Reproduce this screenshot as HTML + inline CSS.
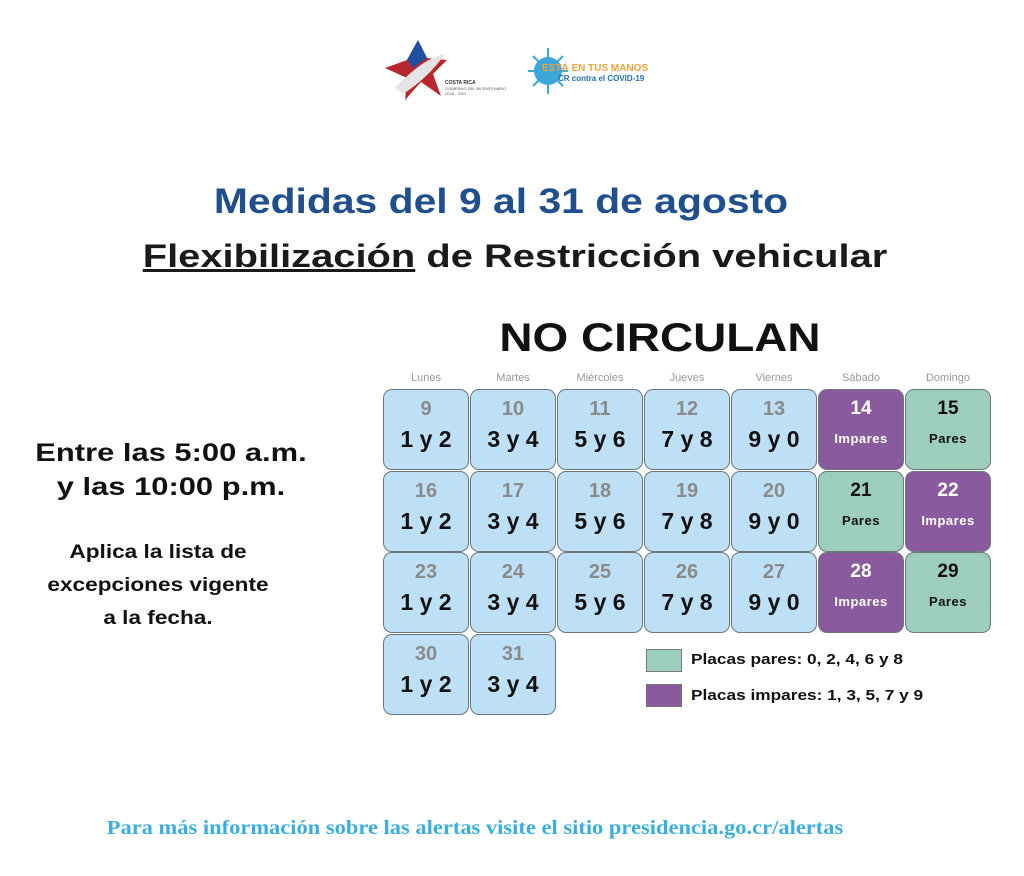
<!DOCTYPE html>
<html><head><meta charset="utf-8"><style>
body{margin:0;width:1024px;height:876px;background:#fff;font-family:"Liberation Sans",sans-serif;position:relative;overflow:hidden}
.a{position:absolute;white-space:nowrap}
.t{position:absolute;white-space:nowrap;width:1000px;text-align:center;transform-origin:50% 50%}
.c{position:absolute;width:84px;height:79px;border:1px solid #6a7780;border-radius:9px;text-align:center;box-sizing:content-box}
.b{background:#bde0f7}.p{background:#8a5a9e;color:#fff}.g{background:#9dcebd;color:#111}
.n{position:absolute;left:0;right:0;top:8px;font-size:20px;font-weight:bold;color:#8a8a8a}
.v{position:absolute;left:0;right:0;top:36px;font-size:23px;font-weight:bold;color:#111}
.wn{position:absolute;left:0;right:0;top:8px;font-size:19px;font-weight:bold}
.wl{position:absolute;left:0;right:0;top:41px;font-size:13px;font-weight:bold;letter-spacing:0.5px}
.d{position:absolute;top:372px;width:86px;text-align:center;font-size:11px;color:#999}
</style></head><body>
<svg class="a" style="left:383px;top:38px" width="130" height="64">
<polygon points="35,2 44,20 64,22 50,36 58,58 38,44 22,62 24,40 2,30 24,22" fill="#b8282e"/>
<polygon points="35,2 44,20 30,30 24,22" fill="#1e4fa0"/>
<path d="M12,50 Q40,20 62,16 Q45,40 20,56Z" fill="#e4e4e4"/>
<text x="62" y="46" font-size="5" font-family="Liberation Sans" font-weight="bold" fill="#333">COSTA RICA</text>
<text x="62" y="52" font-size="4" font-family="Liberation Sans" fill="#555">GOBIERNO DEL BICENTENARIO</text>
<text x="62" y="57" font-size="4" font-family="Liberation Sans" fill="#555">2018 - 2022</text>
</svg>
<svg class="a" style="left:528px;top:46px" width="125" height="50">
<circle cx="20" cy="25" r="14" fill="#3aa7d8"/>
<g stroke="#3aa7d8" stroke-width="2"><line x1="20" y1="2" x2="20" y2="48"/><line x1="0" y1="25" x2="40" y2="25"/><line x1="5" y1="10" x2="35" y2="40"/><line x1="35" y1="10" x2="5" y2="40"/></g>
<text x="14" y="25" font-size="10" font-family="Liberation Sans" font-weight="bold" fill="#f0a040">ESTÁ EN TUS MANOS</text>
<text x="30" y="35" font-size="8" font-family="Liberation Sans" font-weight="bold" fill="#1e6fb0">CR contra el COVID-19</text>
</svg>
<div class="t" style="left:1px;top:182px;font-size:35px;font-weight:bold;color:#1f4f8c;transform:scaleX(1.167)">Medidas del 9 al 31 de agosto</div>
<div class="t" style="left:15px;top:238px;font-size:32px;font-weight:bold;color:#1a1a1a;transform:scaleX(1.246)"><span style="text-decoration:underline">Flexibilización</span> de Restricción vehicular</div>
<div class="t" style="left:160px;top:316px;font-size:40px;font-weight:bold;color:#111;transform:scaleX(1.147)">NO CIRCULAN</div>
<div class="t" style="left:-329px;top:436px;font-size:25px;font-weight:bold;line-height:34px;color:#111;transform:scaleX(1.236)">Entre las 5:00 a.m.<br>y las 10:00 p.m.</div>
<div class="t" style="left:-342px;top:536px;font-size:19px;font-weight:bold;line-height:33px;color:#111;transform:scaleX(1.19)">Aplica la lista de<br>excepciones vigente<br>a la fecha.</div>
<div class="d" style="left:383px">Lunes</div><div class="d" style="left:470px">Martes</div><div class="d" style="left:557px">Miércoles</div><div class="d" style="left:644px">Jueves</div><div class="d" style="left:731px">Viernes</div><div class="d" style="left:818px">Sábado</div><div class="d" style="left:905px">Domingo</div>

<div class="c b" style="left:383px;top:389px"><div class="n">9</div><div class="v">1 y 2</div></div>
<div class="c b" style="left:470px;top:389px"><div class="n">10</div><div class="v">3 y 4</div></div>
<div class="c b" style="left:557px;top:389px"><div class="n">11</div><div class="v">5 y 6</div></div>
<div class="c b" style="left:644px;top:389px"><div class="n">12</div><div class="v">7 y 8</div></div>
<div class="c b" style="left:731px;top:389px"><div class="n">13</div><div class="v">9 y 0</div></div>
<div class="c p" style="left:818px;top:389px"><div class="wn">14</div><div class="wl">Impares</div></div>
<div class="c g" style="left:905px;top:389px"><div class="wn">15</div><div class="wl">Pares</div></div>

<div class="c b" style="left:383px;top:471px"><div class="n">16</div><div class="v">1 y 2</div></div>
<div class="c b" style="left:470px;top:471px"><div class="n">17</div><div class="v">3 y 4</div></div>
<div class="c b" style="left:557px;top:471px"><div class="n">18</div><div class="v">5 y 6</div></div>
<div class="c b" style="left:644px;top:471px"><div class="n">19</div><div class="v">7 y 8</div></div>
<div class="c b" style="left:731px;top:471px"><div class="n">20</div><div class="v">9 y 0</div></div>
<div class="c g" style="left:818px;top:471px"><div class="wn">21</div><div class="wl">Pares</div></div>
<div class="c p" style="left:905px;top:471px"><div class="wn">22</div><div class="wl">Impares</div></div>

<div class="c b" style="left:383px;top:552px"><div class="n">23</div><div class="v">1 y 2</div></div>
<div class="c b" style="left:470px;top:552px"><div class="n">24</div><div class="v">3 y 4</div></div>
<div class="c b" style="left:557px;top:552px"><div class="n">25</div><div class="v">5 y 6</div></div>
<div class="c b" style="left:644px;top:552px"><div class="n">26</div><div class="v">7 y 8</div></div>
<div class="c b" style="left:731px;top:552px"><div class="n">27</div><div class="v">9 y 0</div></div>
<div class="c p" style="left:818px;top:552px"><div class="wn">28</div><div class="wl">Impares</div></div>
<div class="c g" style="left:905px;top:552px"><div class="wn">29</div><div class="wl">Pares</div></div>

<div class="c b" style="left:383px;top:634px"><div class="n">30</div><div class="v">1 y 2</div></div>
<div class="c b" style="left:470px;top:634px"><div class="n">31</div><div class="v">3 y 4</div></div>

<div class="a" style="left:646px;top:649px;width:34px;height:21px;background:#9dcebd;border:1px solid #777"></div>
<div class="a" style="left:691px;top:651px;font-size:15px;font-weight:bold;color:#111;transform:scaleX(1.15);transform-origin:0 50%">Placas pares: 0, 2, 4, 6 y 8</div>
<div class="a" style="left:646px;top:684px;width:34px;height:21px;background:#8a5a9e;border:1px solid #777"></div>
<div class="a" style="left:691px;top:687px;font-size:15px;font-weight:bold;color:#111;transform:scaleX(1.15);transform-origin:0 50%">Placas impares: 1, 3, 5, 7 y 9</div>

<div class="t" style="left:-25px;top:817px;font-family:'Liberation Serif',serif;font-size:20px;font-weight:bold;color:#3aaee0;transform:scaleX(1.124)">Para más información sobre las alertas visite el sitio presidencia.go.cr/alertas</div>
</body></html>
